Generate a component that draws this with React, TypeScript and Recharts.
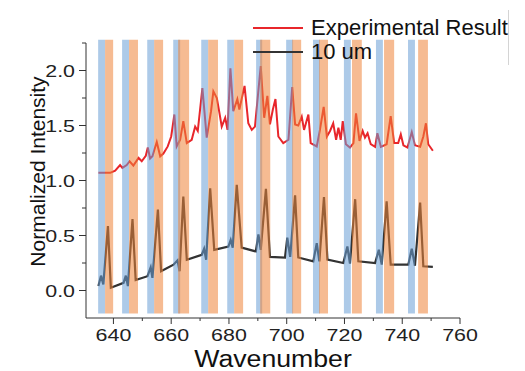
import { Legend, Line, LineChart, ReferenceArea, XAxis, YAxis } from 'recharts';

const expWavenumber = [
  634.8, 638.9, 640.6, 642.3, 643.1, 644.6, 645.6, 646.9, 648.7, 649.8, 651.2, 651.9, 652.7, 653.5,
  655.0, 656.2, 657.3, 658.8, 660.0, 661.1, 661.9, 663.1, 664.2, 665.4, 667.1, 668.3, 669.2, 670.8,
  672.3, 673.8, 674.6, 675.8, 676.7, 677.5, 678.7, 679.5, 680.5, 681.5, 682.9, 683.6, 685.4, 686.7,
  687.9, 689.0, 691.0, 692.2, 693.3, 694.2, 695.2, 696.1, 697.1, 698.8, 700.6, 701.9, 702.9, 704.0,
  705.2, 706.0, 707.5, 708.3, 710.4, 711.5, 712.8, 713.9, 715.0, 716.1, 717.1, 717.9, 718.7, 719.4,
  720.5, 721.9, 723.1, 724.0, 725.2, 726.3, 727.1, 728.0, 729.1, 730.6, 731.4, 732.6, 734.6, 736.0,
  737.2, 738.6, 739.5, 740.4, 741.8, 743.3, 744.4, 746.2, 747.3, 748.2, 749.0, 750.6
];
const expIntensity = [
  1.07, 1.07, 1.09, 1.14, 1.115, 1.14, 1.175, 1.135, 1.205, 1.175, 1.225, 1.3, 1.2, 1.22,
  1.35, 1.22, 1.245, 1.31, 1.4, 1.6, 1.31, 1.37, 1.54, 1.34, 1.37, 1.49, 1.45, 1.84,
  1.39, 1.63, 1.81, 1.75, 1.615, 1.49, 1.57, 1.46, 2.02, 1.63, 1.74, 1.645, 1.86, 1.52,
  1.46, 1.49, 2.04, 1.57, 1.77, 1.51, 1.645, 1.74, 1.4, 1.34, 1.37, 1.85, 1.51, 1.5,
  1.58, 1.46, 1.6, 1.34, 1.31, 1.46, 1.67, 1.4, 1.45, 1.52, 1.37, 1.48, 1.37, 1.54,
  1.33, 1.3, 1.34, 1.61, 1.36, 1.45, 1.39, 1.43, 1.33, 1.306, 1.43, 1.306, 1.33, 1.585,
  1.34, 1.34, 1.42, 1.32, 1.3, 1.44, 1.32, 1.306, 1.4, 1.52, 1.33, 1.27
];

const simWavenumber = [
  634.8, 635.7, 636.5, 638.1, 639.1, 643.5, 644.3, 645.0, 646.6, 647.7, 651.8, 652.9, 653.5, 655.4,
  656.5, 660.8, 662.2, 662.9, 664.2, 665.4, 670.6, 671.4, 672.1, 673.5, 674.9, 679.8, 680.6, 681.3,
  682.7, 684.4, 689.3, 690.2, 691.0, 692.8, 694.2, 699.4, 700.2, 701.2, 702.9, 704.0, 709.2, 710.4,
  711.3, 712.9, 714.1, 719.6, 721.0, 721.9, 723.7, 724.8, 730.6, 731.9, 732.9, 734.6, 736.0, 742.1,
  743.3, 744.4, 746.2, 747.3, 750.6
];
const simIntensity = [
  0.04, 0.135, 0.055, 0.585, 0.025, 0.07, 0.135, 0.04, 0.65, 0.095, 0.13, 0.21, 0.115, 0.735,
  0.175, 0.235, 0.275, 0.175, 0.855, 0.28, 0.325, 0.38, 0.28, 0.93, 0.37, 0.4, 0.46, 0.39,
  0.96, 0.39, 0.355, 0.51, 0.37, 0.925, 0.305, 0.3, 0.48, 0.305, 0.865, 0.3, 0.265, 0.43,
  0.265, 0.85, 0.28, 0.25, 0.4, 0.245, 0.83, 0.265, 0.25, 0.37, 0.235, 0.81, 0.235, 0.235,
  0.38, 0.225, 0.8, 0.22, 0.215
];

const blueStart = [634.7, 643.0, 651.7, 660.7, 670.4, 679.4, 689.4, 699.8, 709.1, 719.8, 730.9, 742.0];
const blueEnd = [637.1, 645.4, 654.1, 663.1, 672.8, 681.8, 691.5, 702.2, 711.5, 722.2, 733.3, 744.4];
const orangeStart = [637.1, 645.4, 654.1, 662.4, 672.8, 681.8, 690.8, 701.9, 711.2, 722.6, 733.7, 745.5];
const orangeEnd = [639.9, 648.5, 657.2, 666.2, 676.2, 684.9, 694.3, 705.0, 714.3, 726.0, 737.2, 748.9];

const seriesNames = ['Experimental Result', '10 um'];

const xMajorTicks = [640, 660, 680, 700, 720, 740, 760];
const xMinorTicks = [650, 670, 690, 710, 730, 750];
const yMajorTicks = [0, 0.5, 1, 1.5, 2];
const yMinorTicks = [0.25, 0.75, 1.25, 1.75, 2.25];

const expData = expWavenumber.map((x, i) => ({ x, y: expIntensity[i] }));
const simData = simWavenumber.map((x, i) => ({ x, y: simIntensity[i] }));

const FONT = '"Liberation Sans", Arial, sans-serif';
const AXIS = '#333';

function XTick({ x, y, payload }: any) {
  const major = xMajorTicks.includes(payload.value);
  return (
    <g transform={`translate(${x},${y})`}>
      <line x1={0} y1={0} x2={0} y2={major ? 6 : 3} stroke={AXIS} />
      {major && (
        <text x={0} y={23} textAnchor="middle" transform="scale(1.26,1)" fontSize={17} fontFamily={FONT} fill="#222">
          {payload.value}
        </text>
      )}
    </g>
  );
}

function YTick({ x, y, payload }: any) {
  const major = yMajorTicks.includes(payload.value);
  return (
    <g transform={`translate(${x},${y})`}>
      <line x1={major ? -7 : -4} y1={0} x2={0} y2={0} stroke={AXIS} />
      {major && (
        <g transform="translate(-11,6) scale(1.26,1)">
          <text x={0} y={0} textAnchor="end" fontSize={17} fontFamily={FONT} fill="#222">
            {payload.value.toFixed(1)}
          </text>
        </g>
      )}
    </g>
  );
}

function XTitle({ viewBox }: any) {
  const cx = viewBox.x + viewBox.width / 2;
  const by = viewBox.y + viewBox.height - 4;
  return (
    <g transform={`translate(${cx},${by}) scale(1.16,1)`}>
      <text x={0} y={0} textAnchor="middle" fontSize={23} fontFamily={FONT} fill="#111">
        Wavenumber
      </text>
    </g>
  );
}

function YTitle({ viewBox }: any) {
  const cy = viewBox.y + viewBox.height / 2 - 9;
  return (
    <text
      x={45}
      y={cy}
      transform={`rotate(-90, 45, ${cy})`}
      textAnchor="middle"
      fontSize={21}
      fontFamily={FONT}
      fill="#111"
    >
      Normalized Intensity
    </text>
  );
}

function LegendBox({ payload }: any) {
  const items = [...(payload || [])].sort(
    (a: any, b: any) => seriesNames.indexOf(a.value) - seriesNames.indexOf(b.value)
  );
  return (
    <div style={{ borderRight: '1px solid #d4d4d4', height: 55, paddingTop: 6, boxSizing: 'border-box' }}>
      {items.map((item: any) => (
        <div key={item.value} style={{ display: 'flex', alignItems: 'center', height: 24 }}>
          <div style={{ width: 50, height: item.color === '#333333' ? 2 : 1.5, background: item.color, marginRight: 8 }} />
          <span style={{ fontSize: 22, fontFamily: FONT, color: '#111', lineHeight: '24px' }}>{item.value}</span>
        </div>
      ))}
    </div>
  );
}

export default function App() {
  return (
    <div style={{ position: 'absolute', left: 0, top: 0, background: '#fff' }}>
      <LineChart width={525} height={371} margin={{ top: 43, right: 65, bottom: 0, left: 0 }}>
        <XAxis
          dataKey="x"
          type="number"
          domain={[630.5, 760]}
          allowDataOverflow
          ticks={[...xMajorTicks, ...xMinorTicks].sort((a, b) => a - b)}
          interval={0}
          tickSize={0}
          tickMargin={0}
          tickLine={false}
          tick={<XTick />}
          axisLine={{ stroke: AXIS }}
          height={53}
          label={<XTitle />}
        />
        <YAxis
          type="number"
          domain={[-0.25, 2.25]}
          allowDataOverflow
          ticks={[...yMajorTicks, ...yMinorTicks].sort((a, b) => a - b)}
          interval={0}
          tickSize={0}
          tickMargin={0}
          tickLine={false}
          tick={<YTick />}
          axisLine={{ stroke: AXIS }}
          width={86}
          label={<YTitle />}
        />
        <Legend
          layout="vertical"
          align="center"
          verticalAlign="middle"
          wrapperStyle={{ left: 253, top: 10, width: 256 }}
          content={<LegendBox />}
        />
        <Line
          data={expData}
          dataKey="y"
          name={seriesNames[0]}
          stroke="#e8262b"
          strokeWidth={2}
          dot={false}
          activeDot={false}
          isAnimationActive={false}
        />
        <Line
          data={simData}
          dataKey="y"
          name={seriesNames[1]}
          stroke="#333333"
          strokeWidth={2.2}
          dot={false}
          activeDot={false}
          isAnimationActive={false}
        />
        {blueStart.map((s, i) => (
          <ReferenceArea
            key={`b${i}`}
            x1={s}
            x2={blueEnd[i]}
            y1={-0.21}
            y2={2.28}
            fill="#6a9fd6"
            fillOpacity={0.55}
            stroke="none"
            ifOverflow="visible"
            zIndex={450}
          />
        ))}
        {orangeStart.map((s, i) => (
          <ReferenceArea
            key={`o${i}`}
            x1={s}
            x2={orangeEnd[i]}
            y1={-0.21}
            y2={2.28}
            fill="#ee8438"
            fillOpacity={0.55}
            stroke="none"
            ifOverflow="visible"
            zIndex={450}
          />
        ))}
      </LineChart>
    </div>
  );
}
